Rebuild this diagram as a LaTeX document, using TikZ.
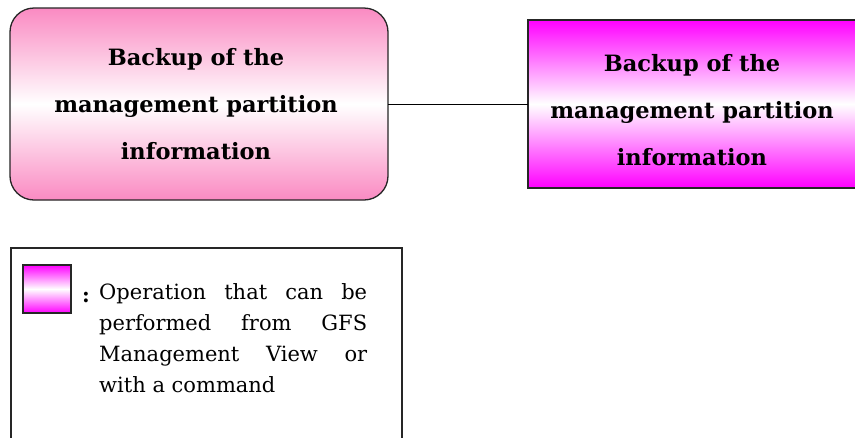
\documentclass[tikz,border=0pt]{standalone}
\usepackage{fontspec}
\setmainfont{DejaVu Serif}
\definecolor{pinkc}{RGB}{250,138,194}
\definecolor{magc}{RGB}{255,0,255}
\tikzset{
  opbox/.style={draw=black!85, line width=1.3pt, top color=pinkc, bottom color=pinkc, middle color=white, rounded corners=24pt},
  guibox/.style={draw=black!85, line width=1.3pt, top color=magc, bottom color=magc, middle color=white},
  titletext/.style={align=center, font=\bfseries\fontsize{22.5}{47}\selectfont},
  legtext/.style={align=left, font=\fontsize{21}{31}\selectfont, inner sep=0pt},
}
\begin{document}
\begin{tikzpicture}[x=1pt,y=-1pt]
\clip (0,0) rectangle (855,437);
\fill[white] (0,0) rectangle (855,437);
% boxes
\path[opbox] (10,8) rectangle (388,200);
\node[draw=none, inner sep=0pt, minimum width=378pt, minimum height=192pt] (L) at (199,104) {};
\node[titletext] (Lt) at (196,104) {Backup of the\\management partition\\information};
\path[guibox] (528,20) rectangle (870,188);
\node[draw=none, inner sep=0pt, minimum width=342pt, minimum height=168pt] (R) at (699,104) {};
\node[titletext] (Rt) at (692,110) {Backup of the\\management partition\\information};
\draw[line width=1pt] (L.east) -- (R.west);
% legend
\draw[line width=1.2pt, black!85] (11,445) -- (11,248) -- (402,248) -- (402,445);
\path[guibox, line width=1.2pt] (23,265) rectangle (71,313);
\node[font=\bfseries\fontsize{21}{31}\selectfont, inner sep=0pt] (colon) at (86,297) {:};
\node[legtext, anchor=north west] (lt) at (99,283) {\makebox[268pt][s]{Operation that can be}\\\makebox[268pt][s]{performed from GFS}\\\makebox[268pt][s]{Management View or}\\with a command};
\end{tikzpicture}
\end{document}
